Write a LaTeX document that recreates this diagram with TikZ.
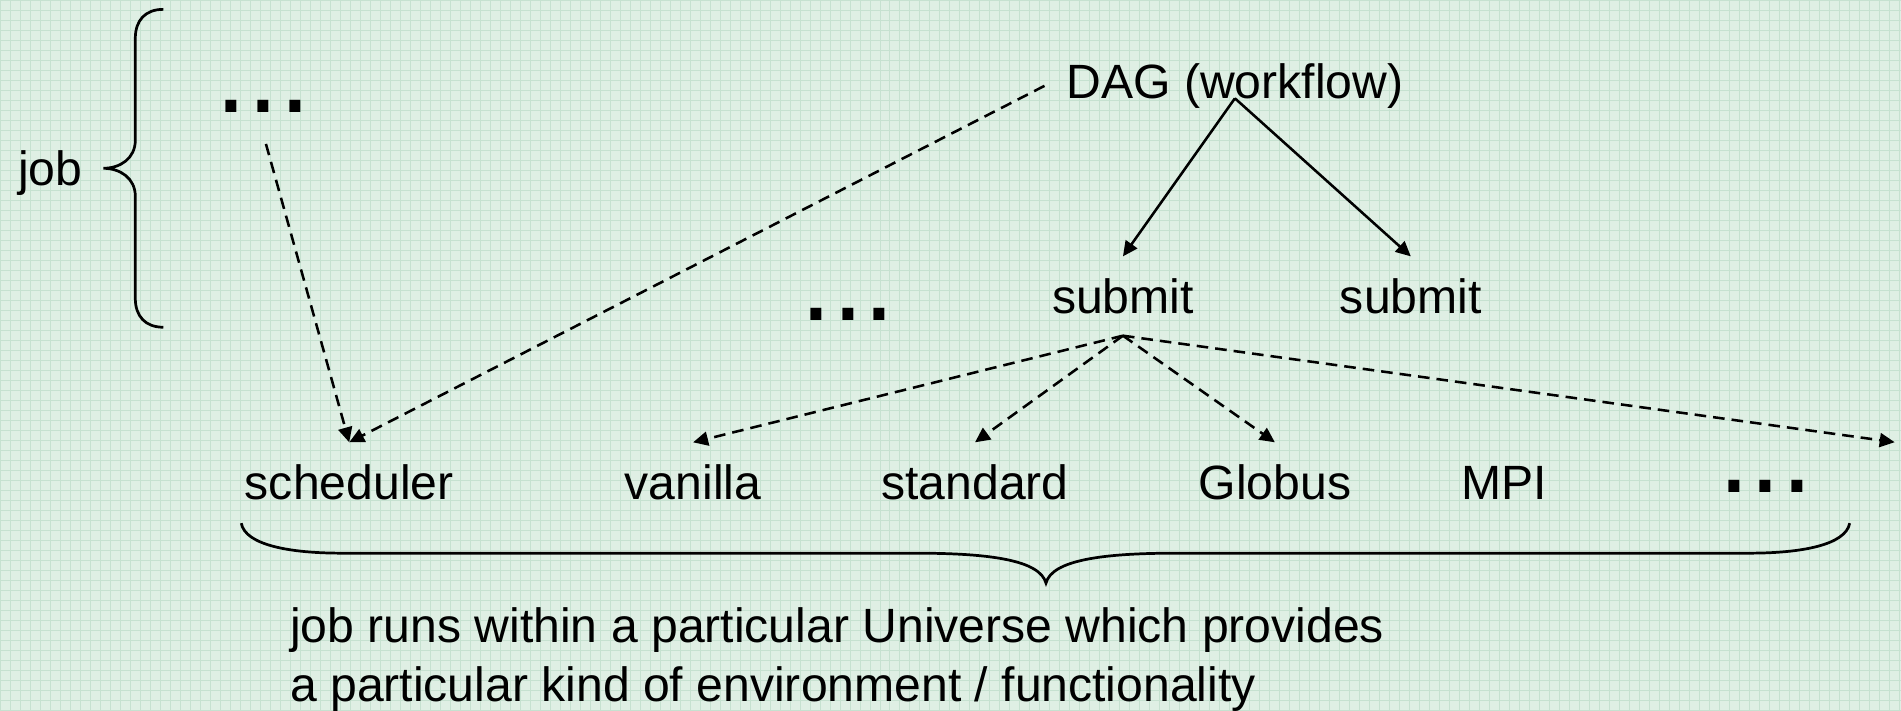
\documentclass[tikz,border=0pt]{standalone}
\usepackage{fontspec}
\setmainfont{Liberation Sans}
\usetikzlibrary{arrows.meta}
\definecolor{BgMint}{HTML}{DFEFE4}
\definecolor{GridMint}{HTML}{C6E1D0}
\newcommand{\lbfont}{\fontsize{27.4}{33.6}\selectfont}
\newcommand{\dtfont}{\fontsize{65}{65}\selectfont}

\begin{document}
\begin{tikzpicture}[
  x=0.02cm,y=-0.02cm,
  lb/.style={inner sep=0pt,outer sep=0.44cm,font=\lbfont,anchor=base},
  dt/.style={inner sep=0pt,outer sep=0.44cm,font=\dtfont,anchor=base},
  a/.style={-{Triangle[length=0.3cm,width=0.28cm]},line width=1.45pt},
  da/.style={a,dash pattern=on 6.6pt off 4pt},
  br/.style={line width=1.55pt}
]
  % background with grid
  \fill[BgMint] (0,0) rectangle (1901,710);
  \draw[GridMint,line width=0.4pt,step=0.2cm] (0,710) grid (1901,0);
  \useasboundingbox (0,0) rectangle (1901,710);

  % job side
  \node[lb] (job) at (50,185) {job};
  \draw[br] (163,9) .. controls (145,9) and (135,20) .. (135,38) -- (135,140)
    .. controls (135,158) and (120,168) .. (103,168)
    .. controls (120,168) and (135,178) .. (135,196) -- (135,298)
    .. controls (135,316) and (145,327) .. (163,327);
  \node[dt] (dotsA) at (263,112) {...};
  \node[lb] (dag) at (1235,98) {DAG (workflow)};
  \node[lb] (subL) at (1123,313) {submit};
  \node[lb] (subR) at (1411,313) {submit};
  \node[dt] (dotsB) at (848,320) {...};

  % universes
  \node[lb] (sched) at (349,499) {scheduler};
  \node[lb] (van) at (693,499) {vanilla};
  \node[lb] (std) at (975,499) {standard};
  \node[lb] (glob) at (1275,499) {Globus};
  \node[lb] (mpi) at (1504,499) {MPI};
  \node[dt] (dotsC) at (1766,492) {...};
  \coordinate (more) at (1895,442);

  \draw[br] (241,523) .. controls (245,545) and (290,553) .. (341,553) -- (915,553)
    .. controls (990,553) and (1040,560) .. (1046,583)
    .. controls (1052,560) and (1102,553) .. (1177,553) -- (1750,553)
    .. controls (1801,553) and (1846,545) .. (1850,523);
  \node[lb,outer sep=0pt,anchor=north west,align=left] (note) at (290,607)
    {job runs within a particular Universe which provides\\
     a particular kind of environment / functionality};

  \draw[a] (dag.base) -- (subL.north);
  \draw[a] (dag.base) -- (subR.north);
  \draw[da] (dag.west) -- (sched.north);
  \draw[da,shorten <=0.2cm] (dotsA.south) -- (sched.north);
  \foreach \k in {van,std,glob}
    \draw[da] (subL.south) -- (\k.north);
  \draw[da] (subL.south) -- (more);
\end{tikzpicture}
\end{document}
